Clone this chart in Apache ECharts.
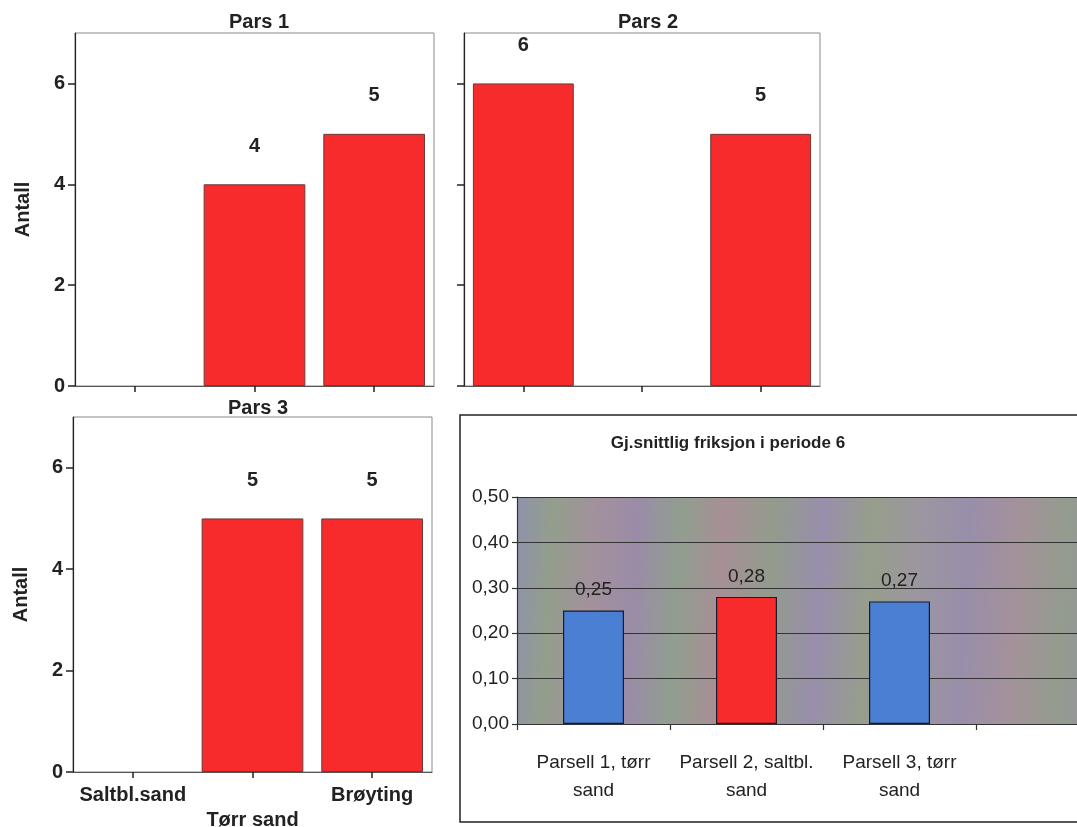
<!DOCTYPE html>
<html>
<head>
<meta charset="utf-8">
<script src="https://cdn.jsdelivr.net/npm/echarts@6/dist/echarts.min.js"></script>
<style>
html,body{margin:0;padding:0;background:#fff;}
#chart{width:1077px;height:827px;}
</style>
</head>
<body>
<div id="chart"></div>
<script>
// ---- data ----
const treatments = ['Saltbl.sand', 'Tørr sand', 'Brøyting'];
const pars1Counts = [0, 4, 5];
const pars2Counts = [6, 0, 5];
const pars3Counts = [0, 5, 5];
const countTicks = [0, 2, 4, 6];
const panelTitles = ['Pars 1', 'Pars 2', 'Pars 3'];
const yName = 'Antall';

const parcels = ['Parsell 1, tørr sand', 'Parsell 2, saltbl. sand', 'Parsell 3, tørr sand'];
const friction = [0.25, 0.28, 0.27];
const frictionTitle = 'Gj.snittlig friksjon i periode 6';

// ---- styles ----
const FONT = '"Liberation Sans", Arial, sans-serif';
const RED = '#f72a2c';
const BLUE = '#4a7fd4';

const chart = echarts.init(document.getElementById('chart'), null, {renderer: 'canvas'});

function spssGrid(left, top, width, height) {
  return {left, top, width, height, show: true, backgroundColor: '#fff',
    borderColor: '#8a8a8a', borderWidth: 1, containLabel: false, outerBoundsMode: 'none'};
}
function spssX(gridIndex, showLabels) {
  return {
    type: 'category', gridIndex, data: treatments,
    axisLine: {lineStyle: {color: '#555', width: 1}},
    axisTick: {show: true, alignWithLabel: true, interval: 0, length: 6, lineStyle: {color: '#222', width: 1.5}},
    axisLabel: {show: showLabels, interval: 0, margin: 11, color: '#222', fontFamily: FONT,
      fontWeight: 'bold', fontSize: 20, lineHeight: 25,
      formatter: (v, i) => (i === 1 ? '\n' + v : v)},
    splitLine: {show: false}
  };
}
function spssY(gridIndex, showLabels, showName) {
  return {
    type: 'value', gridIndex, min: 0, max: 7, interval: 1,
    name: showName ? yName : '', nameLocation: 'middle', nameGap: 42,
    nameTextStyle: {color: '#222', fontFamily: FONT, fontWeight: 'bold', fontSize: 20},
    axisLine: {show: true, lineStyle: {color: '#222', width: 1.2}},
    axisTick: {show: true, length: 7, lineStyle: {color: '#222', width: 1.5},
      customValues: countTicks},
    axisLabel: {show: showLabels, margin: 10, color: '#222', fontFamily: FONT,
      fontWeight: 'bold', fontSize: 20, customValues: countTicks},
    splitLine: {show: false}
  };
}
function spssSeries(idx, values) {
  return {
    type: 'bar', xAxisIndex: idx, yAxisIndex: idx, barWidth: '85%',
    data: values.map(v => (v === 0 ? {value: v, itemStyle: {borderWidth: 0, opacity: 0}} : v)),
    itemStyle: {color: RED, borderColor: '#6a3a3a', borderWidth: 1},
    label: {show: true, position: 'top', distance: 28, color: '#222', fontFamily: FONT,
      fontWeight: 'bold', fontSize: 20, formatter: p => (p.value ? String(p.value) : '')},
    silent: true, animation: false
  };
}

const bgGradient = new echarts.graphic.LinearGradient(0, 0, 1, 0.15, [
  {offset: 0.00, color: '#8f92ac'},
  {offset: 0.06, color: '#939e8c'},
  {offset: 0.13, color: '#a2919c'},
  {offset: 0.20, color: '#9a8ca8'},
  {offset: 0.27, color: '#919e8e'},
  {offset: 0.34, color: '#a78f96'},
  {offset: 0.42, color: '#929c8c'},
  {offset: 0.50, color: '#998eac'},
  {offset: 0.58, color: '#969e8c'},
  {offset: 0.66, color: '#9c96a0'},
  {offset: 0.74, color: '#998eaa'},
  {offset: 0.82, color: '#a4929a'},
  {offset: 0.90, color: '#939c8e'},
  {offset: 1.00, color: '#998eaa'}
]);

const titleStyle = {fontFamily: FONT, fontWeight: 'bold', fontSize: 20, color: '#222'};

const option = {
  animation: false,
  backgroundColor: '#fff',
  title: [
    {text: panelTitles[0], left: 254, top: 7, textAlign: 'center', textStyle: titleStyle},
    {text: panelTitles[1], left: 643, top: 7, textAlign: 'center', textStyle: titleStyle},
    {text: panelTitles[2], left: 253, top: 393, textAlign: 'center', textStyle: titleStyle},
    {text: frictionTitle, left: 723, top: 430, textAlign: 'center',
      textStyle: {fontFamily: FONT, fontWeight: 'bold', fontSize: 17, color: '#222'}}
  ],
  graphic: [
    {type: 'rect', shape: {x: 460, y: 415, width: 700, height: 407},
      style: {fill: 'none', stroke: '#222', lineWidth: 1.5}, z: -1, silent: true}
  ],
  grid: [
    spssGrid(75, 33, 359, 353),
    spssGrid(464, 33, 356, 353),
    spssGrid(73, 417, 359, 355),
    {left: 517, top: 497, right: -52, height: 227, show: true, backgroundColor: bgGradient,
      borderWidth: 0, containLabel: false, outerBoundsMode: 'none'}
  ],
  xAxis: [
    spssX(0, false),
    spssX(1, false),
    spssX(2, true),
    {
      type: 'category', gridIndex: 3, data: parcels, max: parcels.length,
      axisLine: {lineStyle: {color: '#333', width: 1.2}},
      axisTick: {show: true, length: 6, interval: 0, lineStyle: {color: '#333', width: 1.2}},
      axisLabel: {interval: 0, margin: 25, color: '#222', fontFamily: FONT, fontSize: 19,
        lineHeight: 28, formatter: v => v.replace(/ sand$/, '\nsand')},
      splitLine: {show: false}
    }
  ],
  yAxis: [
    spssY(0, true, true),
    spssY(1, false, false),
    spssY(2, true, true),
    {
      type: 'value', gridIndex: 3, min: 0, max: 0.5, interval: 0.1,
      axisLine: {show: true, lineStyle: {color: '#333', width: 1.2}},
      axisTick: {show: true, length: 5, lineStyle: {color: '#333', width: 1.2}},
      axisLabel: {margin: 8, color: '#222', fontFamily: FONT, fontSize: 19,
        formatter: v => v.toFixed(2).replace('.', ',')},
      splitLine: {show: true, lineStyle: {color: '#333', width: 1.2}}
    }
  ],
  series: [
    spssSeries(0, pars1Counts),
    spssSeries(1, pars2Counts),
    spssSeries(2, pars3Counts),
    {
      type: 'bar', xAxisIndex: 3, yAxisIndex: 3, barWidth: 61,
      data: friction.map((v, i) => ({value: v, itemStyle: {color: i === 1 ? RED : BLUE}})),
      itemStyle: {borderColor: '#1a1a2a', borderWidth: 1.2},
      label: {show: true, position: 'top', distance: 11, color: '#222', fontFamily: FONT,
        fontSize: 19, formatter: p => p.value.toFixed(2).replace('.', ',')},
      silent: true
    }
  ]
};
chart.setOption(option);
</script>
</body>
</html>
